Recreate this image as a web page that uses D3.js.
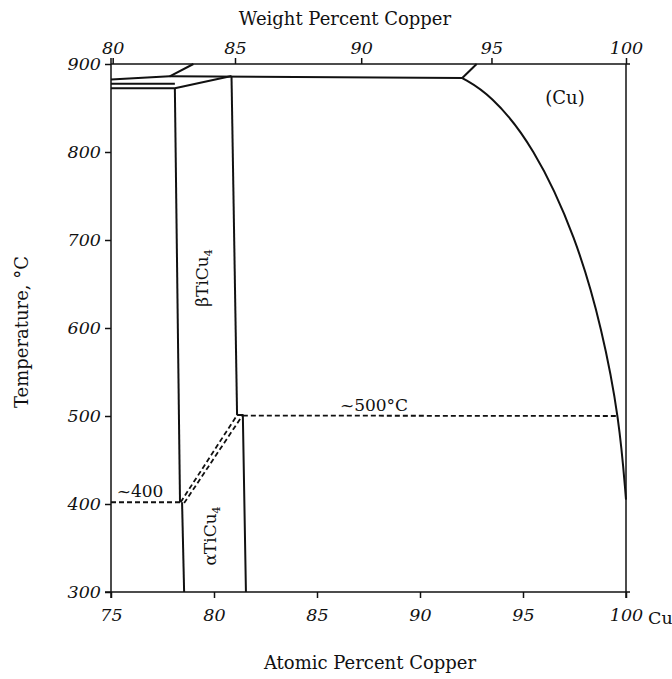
<!DOCTYPE html>
<html>
<head>
<meta charset="utf-8">
<script src="https://cdn.jsdelivr.net/npm/d3@7"></script>
<style>
  body { margin: 0; background: #fff; }
  svg { display: block; }
  text { font-family: "DejaVu Serif", "Liberation Serif", serif; fill: #111; }
  .tick text { font-style: italic; font-size: 17.5px; }
  .domain, .tick line { stroke: #111; stroke-width: 1.5; }
</style>
</head>
<body>
<svg id="chart" width="672" height="679"></svg>
<script>
// axis ticks
var atomicTicks = [75, 80, 85, 90, 95, 100];
var weightTicks = [80, 85, 90, 95, 100];
var tempTicks = [300, 400, 500, 600, 700, 800, 900];

// phase boundaries, [atomic % Cu, temperature °C]
var liquidusTop = [[75, 882.5], [77.85, 886], [79.0, 900]];
var eutecticLine = [[77.85, 886], [92.05, 884]];
var cuLiquidus = [[92.05, 884], [92.75, 900]];
var leftLine1 = [[75, 877.5], [78.1, 877.5]];
var leftLine2 = [[75, 872.5], [78.1, 872.5], [80.85, 886.3]];
var betaLeft = [[78.1, 872.5], [78.35, 402]];
var alphaLeft = [[78.45, 402], [78.55, 300]];
var betaRight = [[80.85, 886.3], [81.12, 501]];
var alphaRight = [[81.12, 501], [81.4, 501], [81.55, 300]];
var cuSolvus = [[92.05, 884], [93.4, 866], [95.5, 808], [97.6, 702],
                [98.85, 598], [99.68, 496], [100, 405]];
var dash400 = [[75, 402], [78.35, 402]];
var dashDiagA = [[78.38, 402], [81.12, 501]];
var dashDiagB = [[78.55, 401], [81.38, 500.5]];
var dash500 = [[81.4, 500.5], [99.65, 500]];

var svg = d3.select('#chart');

var x = d3.scaleLinear().domain([75, 100]).range([111, 626]);
var y = d3.scaleLinear().domain([300, 900]).range([592, 64]);

// weight % -> atomic % for Ti-Cu
function wtToAt(w) {
    var cu = w / 63.546, ti = (100 - w) / 47.867;
    return 100 * cu / (cu + ti);
}
var xw = d3.scaleLinear()
    .domain(weightTicks)
    .range(weightTicks.map(function(w) { return x(wtToAt(w)); }));

// frame
svg.append('line').attr('x1', x(100)).attr('x2', x(100))
    .attr('y1', y(900)).attr('y2', y(300) + 6)
    .style('stroke', '#111').style('stroke-width', 1.5);

svg.append('g').attr('transform', 'translate(0,' + y(300) + ')')
    .call(d3.axisBottom(x).tickValues(atomicTicks).tickSizeOuter(0).tickSize(6).tickPadding(8))
    .call(function(g) { g.selectAll('.tick text').attr('dy', '0.85em'); });

svg.append('g').attr('transform', 'translate(0,' + y(900) + ')')
    .call(d3.axisTop(xw).tickValues(weightTicks).tickSizeOuter(0).tickSize(6).tickPadding(4));

svg.append('g').attr('transform', 'translate(' + x(75) + ',0)')
    .call(d3.axisLeft(y).tickValues(tempTicks).tickSizeOuter(0).tickSize(6).tickPadding(4));

svg.selectAll('.domain').remove();
svg.append('line').attr('x1', x(75) - 6).attr('x2', x(100) + 4)
    .attr('y1', y(300)).attr('y2', y(300)).style('stroke', '#111').style('stroke-width', 1.5);
svg.append('line').attr('x1', x(75)).attr('x2', x(100) + 4)
    .attr('y1', y(900)).attr('y2', y(900)).style('stroke', '#111').style('stroke-width', 1.5);
svg.append('line').attr('x1', x(75)).attr('x2', x(75))
    .attr('y1', y(900) - 6).attr('y2', y(300) + 6).style('stroke', '#111').style('stroke-width', 1.5);

var line = d3.line().x(function(d) { return x(d[0]); }).y(function(d) { return y(d[1]); });

var solid = [liquidusTop, eutecticLine, cuLiquidus, leftLine1, leftLine2,
             betaLeft, alphaLeft, betaRight, alphaRight];
svg.append('g').selectAll('path').data(solid).enter().append('path')
    .attr('d', line)
    .style('fill', 'none').style('stroke', '#111').style('stroke-width', 2)
    .style('stroke-linejoin', 'round');

// Cu solvus, smooth curve
var curveLine = d3.line().x(function(d) { return x(d[0]); }).y(function(d) { return y(d[1]); })
    .curve(d3.curveBasis);
svg.append('path').datum(cuSolvus)
    .attr('d', curveLine)
    .style('fill', 'none').style('stroke', '#111').style('stroke-width', 2);

svg.append('g').selectAll('path').data([dash400, dashDiagA, dashDiagB, dash500]).enter().append('path')
    .attr('d', line)
    .style('fill', 'none').style('stroke', '#111').style('stroke-width', 1.8)
    .style('stroke-dasharray', '5,3');

// labels
svg.append('text').attr('x', 345).attr('y', 25).attr('text-anchor', 'middle')
    .style('font-size', '18px').text('Weight Percent Copper');
svg.append('text').attr('x', 370).attr('y', 669).attr('text-anchor', 'middle')
    .style('font-size', '18px').text('Atomic Percent Copper');
svg.append('text').attr('transform', 'translate(28,332) rotate(-90)').attr('text-anchor', 'middle')
    .style('font-size', '18px').text('Temperature, °C');
svg.append('text').attr('x', 648).attr('y', 624).style('font-size', '17.5px').text('Cu');

svg.append('text').attr('x', 565).attr('y', 104).attr('text-anchor', 'middle')
    .style('font-size', '18px').text('(Cu)');
svg.append('text').attr('x', 374).attr('y', 411).attr('text-anchor', 'middle')
    .style('font-size', '17px').text('~500°C');
svg.append('text').attr('x', 140).attr('y', 497).attr('text-anchor', 'middle')
    .style('font-size', '17px').text('~400');

var beta = svg.append('text').attr('transform', 'translate(208,278) rotate(-90)')
    .attr('text-anchor', 'middle').style('font-size', '17px');
beta.append('tspan').text('βTiCu');
beta.append('tspan').attr('dy', 4).style('font-size', '11px').text('4');

var alpha = svg.append('text').attr('transform', 'translate(216,536) rotate(-90)')
    .attr('text-anchor', 'middle').style('font-size', '17px');
alpha.append('tspan').text('αTiCu');
alpha.append('tspan').attr('dy', 4).style('font-size', '11px').text('4');
</script>
</body>
</html>
